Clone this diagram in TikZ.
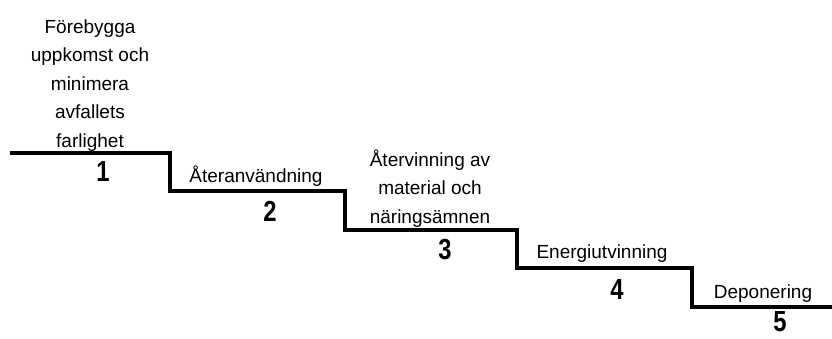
\documentclass[tikz,border=0pt]{standalone}
\usepackage{fontspec}
\setmainfont{Liberation Sans}
\newfontfamily\stepnumfont[FakeStretch=0.82]{Liberation Sans Bold}
\begin{document}
\begin{tikzpicture}[x=1pt,y=1pt,
  label/.style={font=\fontsize{19}{28.5}\selectfont, align=center, inner sep=0pt, anchor=base},
  num/.style={font=\fontsize{29}{30}\stepnumfont, inner sep=0pt},
  stair/.style={line width=4pt, line join=miter, line cap=butt}]
\useasboundingbox (0,0) rectangle (832,338);
% corner points of the staircase
\coordinate (s0) at (10,185);
\coordinate (s1) at (170,185);
\coordinate (s2) at (170,147);
\coordinate (s3) at (345,147);
\coordinate (s4) at (345,108);
\coordinate (s5) at (517,108);
\coordinate (s6) at (517,70);
\coordinate (s7) at (692,70);
\coordinate (s8) at (692,31);
\coordinate (s9) at (832,31);
\draw[stair] (s0) -- (s1) -- (s2) -- (s3) -- (s4) -- (s5) -- (s6) -- (s7) -- (s8) -- (s9);
% step labels (anchored at the baseline of their last line)
\node[label] (t1) at (90,191) {Förebygga\\uppkomst och\\minimera\\avfallets\\farlighet};
\node[label] (t2) at (256,156) {Återanvändning};
\node[label] (t3) at (430,115) {Återvinning av\\material och\\näringsämnen};
\node[label] (t4) at (602,80) {Energiutvinning};
\node[label] (t5) at (763,40) {Deponering};
% step numbers
\node[num] (n1) at (103,166) {1};
\node[num] (n2) at (270,127) {2};
\node[num] (n3) at (445,88) {3};
\node[num] (n4) at (617,48) {4};
\node[num] (n5) at (780,16) {5};
\end{tikzpicture}
\end{document}
